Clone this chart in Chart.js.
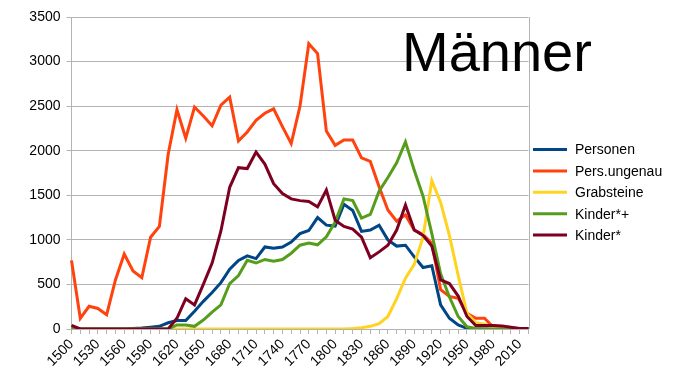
<!DOCTYPE html>
<html>
<head>
<meta charset="utf-8">
<script src="https://cdn.jsdelivr.net/npm/chart.js@4/dist/chart.umd.min.js"></script>
<style>
  html, body { margin: 0; padding: 0; background: #fff; }
  #c { display: block; }
</style>
</head>
<body>
<canvas id="c" width="680" height="383"></canvas>
<script>
const years = [1500,1510,1520,1530,1540,1550,1560,1570,1580,1590,1600,1610,1620,1630,1640,1650,1660,1670,1680,1690,1700,1710,1720,1730,1740,1750,1760,1770,1780,1790,1800,1810,1820,1830,1840,1850,1860,1870,1880,1890,1900,1910,1920,1930,1940,1950,1960,1970,1980,1990,2000,2010,2020];

const personen = [0,0,0,0,0,0,0,5,10,20,30,70,95,95,200,310,410,520,670,770,820,790,920,905,920,975,1070,1105,1250,1165,1155,1400,1330,1095,1110,1165,1000,930,940,810,690,710,270,120,45,8,0,0,0,0,0,0,0];

const persUngenau = [770,120,255,230,160,550,840,650,575,1030,1150,1960,2460,2140,2490,2390,2280,2510,2600,2110,2210,2340,2420,2470,2270,2080,2500,3200,3090,2220,2060,2120,2120,1920,1880,1595,1335,1210,1280,1110,1060,960,440,365,345,175,120,120,20,15,10,5,0];

const grabsteine = [0,0,0,0,0,0,0,0,0,0,0,0,0,0,0,0,0,0,0,0,0,0,0,0,0,0,0,0,0,0,0,0,5,15,30,60,140,340,570,725,1030,1665,1420,1050,600,175,70,55,10,0,0,0,0];

const kinderPlus = [20,0,0,0,0,0,0,0,0,0,0,0,45,45,30,100,190,270,510,600,770,740,780,760,780,850,940,965,945,1035,1200,1460,1440,1245,1285,1545,1700,1865,2100,1780,1490,1070,620,360,140,25,5,0,0,0,0,0,0];

const kinder = [40,0,0,0,0,0,0,0,0,0,0,0,120,340,270,500,740,1100,1590,1810,1800,1985,1850,1630,1520,1460,1440,1430,1370,1560,1220,1150,1120,1030,800,865,940,1110,1390,1110,1050,930,550,510,370,140,40,40,40,35,20,5,5];

const seriesNames = ['Personen','Pers.ungenau','Grabsteine','Kinder*+','Kinder*'];
const seriesColors = ['#004586','#ff420e','#ffd320','#579d1c','#7e0021'];
const seriesData = [personen, persUngenau, grabsteine, kinderPlus, kinder];
const yTicks = [0,500,1000,1500,2000,2500,3000,3500];
const titleText = 'Männer';

const FONT = '"Liberation Sans", Arial, sans-serif';

const overlay = {
  id: 'overlay',
  afterDraw(chart) {
    const ctx = chart.ctx;
    const a = chart.chartArea;
    ctx.save();
    ctx.strokeStyle = '#b3b3b3';
    ctx.lineWidth = 1;
    ctx.beginPath();
    ctx.moveTo(Math.round(a.right) + 0.5, a.top);
    ctx.lineTo(Math.round(a.right) + 0.5, a.bottom);
    ctx.stroke();
    chart.data.datasets.forEach((ds, i) => {
      const y = 149.5 + i * 21.4;
      ctx.strokeStyle = ds.borderColor;
      ctx.lineWidth = 3;
      ctx.beginPath();
      ctx.moveTo(533, y);
      ctx.lineTo(567, y);
      ctx.stroke();
      ctx.fillStyle = '#000';
      ctx.font = '14px ' + FONT;
      ctx.textBaseline = 'middle';
      ctx.textAlign = 'left';
      ctx.fillText(ds.label, 575, y + 1);
    });
    ctx.fillStyle = '#000';
    ctx.font = '56px ' + FONT;
    ctx.textBaseline = 'alphabetic';
    ctx.textAlign = 'left';
    ctx.fillText(titleText, 402, 71);
    ctx.restore();
  }
};

new Chart(document.getElementById('c'), {
  type: 'line',
  data: {
    labels: years.map(String),
    datasets: seriesNames.map((name, i) => ({
      label: name,
      data: seriesData[i],
      borderColor: seriesColors[i],
      backgroundColor: seriesColors[i],
      borderWidth: 3,
      pointRadius: 0,
      tension: 0,
      fill: false,
      order: seriesNames.length - i
    }))
  },
  options: {
    responsive: false,
    animation: false,
    devicePixelRatio: 1,
    layout: { padding: { left: 0, right: 151.5, top: 17, bottom: 0 } },
    plugins: {
      legend: { display: false },
      title: { display: false },
      tooltip: { enabled: false }
    },
    scales: {
      x: {
        type: 'category',
        offset: false,
        grid: { display: true, drawOnChartArea: false, color: '#b3b3b3', tickLength: 5 },
        border: { display: true, color: '#b3b3b3' },
        ticks: {
          autoSkip: false,
          maxRotation: 45,
          minRotation: 45,
          padding: 2,
          color: '#000',
          font: { family: FONT, size: 14 },
          callback: function(v, i) { return i % 3 === 0 ? this.getLabelForValue(v) : ''; }
        },
        afterFit(scale) { scale.height = 54; }
      },
      y: {
        min: 0,
        max: 3500,
        afterBuildTicks(scale) { scale.ticks = yTicks.map(v => ({ value: v })); },
        grid: { color: '#b3b3b3', tickLength: 5 },
        border: { display: true, color: '#b3b3b3' },
        ticks: {
          padding: 6,
          color: '#000',
          font: { family: FONT, size: 14 },
          callback: (v) => String(v)
        },
        afterFit(scale) { scale.width = 71.5; }
      }
    }
  },
  plugins: [overlay]
});
</script>
</body>
</html>
